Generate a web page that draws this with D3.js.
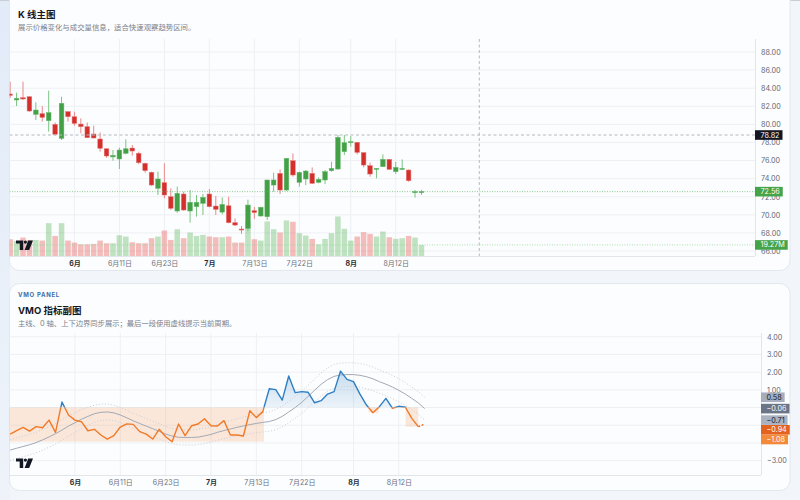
<!DOCTYPE html>
<html>
<head>
<meta charset="utf-8">
<script src="https://cdn.jsdelivr.net/npm/d3@7"></script>
<style>
  html, body { margin: 0; padding: 0; background: #f2f5f9; }
  svg { display: block; font-family: Inter, "Noto Sans CJK SC", sans-serif; }
</style>
</head>
<body>
<svg id="chart" width="800" height="500"></svg>
<script>
// time axis
const tickIndex = [10, 17, 24, 31, 38, 45, 53, 60];
const tickLabels = ['6月', '6月11日', '6月23日', '7月', '7月13日', '7月22日', '8月', '8月12日'];
const monthLabels = ['6月', '7月', '8月'];

// candles (65 bars)
const openP  = [83.35,82.69,82.94,83.05,81.10,81.18,80.40,80.00,78.45,81.40,80.84,80.03,79.74,78.93,78.38,77.30,76.40,76.17,76.80,77.38,76.80,75.69,74.70,72.93,73.55,72.00,70.42,72.30,70.42,70.90,71.27,72.30,70.97,70.30,71.00,69.13,68.43,68.50,70.46,69.87,69.79,73.29,74.58,72.74,75.98,73.59,73.96,74.58,73.59,73.85,74.88,75.06,76.98,77.97,78.01,76.87,75.43,75.02,75.32,76.13,74.77,75.02,74.95,72.45,72.45];
const highP  = [84.70,83.50,84.71,83.10,82.43,82.02,83.72,80.20,83.05,81.45,81.40,80.66,80.20,79.85,79.10,77.35,77.16,77.42,78.34,77.71,76.98,75.76,74.77,74.77,75.69,72.93,73.11,72.56,72.74,72.19,72.30,72.85,72.08,71.93,72.00,69.61,68.76,71.68,70.87,70.90,73.85,74.66,75.02,76.24,76.79,74.77,74.95,75.24,74.14,74.95,75.87,78.82,78.82,78.71,78.05,76.90,75.76,75.13,76.68,76.15,75.87,76.13,75.02,72.74,72.74];
const lowP   = [82.90,82.02,82.68,81.40,80.48,80.30,79.19,78.80,78.27,80.30,79.85,79.00,78.50,78.45,76.98,76.30,75.98,75.06,76.68,76.53,75.60,74.66,73.22,72.19,71.82,70.53,70.24,70.46,69.13,69.80,69.98,70.83,69.98,70.05,69.06,68.76,67.90,68.20,69.55,69.80,69.43,72.56,72.30,72.67,74.21,73.11,73.29,73.40,73.48,73.40,74.77,75.00,76.61,77.53,76.68,75.24,74.21,74.03,75.32,75.00,74.51,74.95,73.66,71.90,72.19];
const closeP = [83.20,82.87,82.80,81.47,81.58,80.77,81.29,78.89,82.32,80.84,80.10,79.74,78.52,78.49,77.35,76.50,76.57,77.16,77.30,77.05,75.76,74.88,73.29,73.96,72.19,70.72,72.37,70.53,71.38,71.38,71.93,70.90,70.60,71.15,69.13,68.87,68.33,71.08,70.25,70.83,73.85,73.85,72.74,76.24,74.40,74.69,74.84,73.48,73.92,74.77,75.13,78.56,77.97,78.08,76.90,75.50,74.51,75.13,76.13,75.02,75.24,75.13,73.77,72.56,72.56];
// volume, millions
const volume = [29.2,26.0,32.1,28.0,28.0,26.9,57.2,35.0,57.2,26.9,23.4,20.4,20.4,21.0,26.9,22.2,22.2,36.2,33.9,23.9,22.2,22.2,31.0,33.9,44.4,28.0,46.7,31.0,40.9,35.0,36.8,33.9,32.7,32.7,33.9,23.4,23.4,60.2,29.2,26.9,60.2,46.7,40.9,61.9,59.6,39.7,35.6,29.8,20.4,29.8,39.7,68.9,47.3,26.9,33.9,41.5,38.5,33.9,42.6,32.7,29.8,31.0,35.0,32.1,19.27];
const priceTicks = [66, 68, 70, 72, 74, 76, 78, 80, 82, 84, 86, 88];
const crosshairIndex = 73;
const crosshairPrice = 78.82;

// VMO panel
const vmoMain = [-1.50,-1.31,-1.12,-1.33,-1.08,-1.14,-0.71,-1.40,0.31,-0.42,-0.71,-0.80,-1.31,-1.23,-1.55,-1.78,-1.59,-1.10,-0.92,-0.95,-1.36,-1.50,-1.78,-1.23,-1.65,-1.93,-0.93,-1.59,-1.03,-0.93,-0.63,-1.03,-1.04,-0.74,-1.55,-1.55,-1.61,-0.18,-0.57,-0.23,1.06,1.01,0.42,1.78,0.84,0.90,0.86,0.27,0.39,0.76,0.90,2.06,1.59,1.46,0.76,0.14,-0.29,0.05,0.52,-0.04,0.07,0.02,-0.61,-1.08];
const vmoCurrent = -0.94;
const vmoSignal = [-2.40,-2.30,-2.20,-2.10,-1.98,-1.83,-1.66,-1.48,-1.27,-1.05,-0.86,-0.66,-0.50,-0.35,-0.27,-0.25,-0.30,-0.42,-0.58,-0.75,-0.90,-1.05,-1.19,-1.34,-1.50,-1.61,-1.68,-1.69,-1.69,-1.67,-1.60,-1.52,-1.40,-1.30,-1.21,-1.12,-1.04,-0.96,-0.90,-0.84,-0.79,-0.68,-0.50,-0.25,0.00,0.29,0.63,0.98,1.31,1.58,1.76,1.84,1.86,1.86,1.82,1.74,1.62,1.46,1.32,1.16,0.97,0.76,0.52,0.26,-0.06];
const vmoUpper = [-1.82,-1.72,-1.62,-1.52,-1.40,-1.25,-1.08,-0.90,-0.69,-0.47,-0.30,-0.12,0.01,0.13,0.19,0.20,0.13,0.01,-0.15,-0.32,-0.47,-0.62,-0.76,-0.91,-1.07,-1.18,-1.25,-1.26,-1.26,-1.24,-1.17,-1.08,-0.95,-0.84,-0.74,-0.64,-0.54,-0.45,-0.38,-0.30,-0.24,-0.11,0.08,0.35,0.61,0.91,1.26,1.62,1.96,2.24,2.43,2.51,2.53,2.53,2.49,2.41,2.29,2.12,1.98,1.81,1.62,1.41,1.16,0.90,0.58];
const vmoLower = [-2.98,-2.88,-2.78,-2.68,-2.56,-2.41,-2.24,-2.06,-1.85,-1.63,-1.42,-1.20,-1.01,-0.83,-0.73,-0.70,-0.73,-0.85,-1.01,-1.18,-1.33,-1.48,-1.62,-1.77,-1.93,-2.04,-2.11,-2.12,-2.12,-2.10,-2.03,-1.96,-1.85,-1.76,-1.68,-1.60,-1.54,-1.47,-1.42,-1.38,-1.34,-1.25,-1.08,-0.85,-0.61,-0.33,0.00,0.34,0.66,0.92,1.09,1.17,1.19,1.19,1.15,1.07,0.95,0.80,0.66,0.51,0.32,0.11,-0.12,-0.38,-0.71];
const vmoTicks = [-3, -2, -1, 0, 1, 2, 3, 4];

const upColor = '#43a047', downColor = '#d3302c';
const upWick = '#7cc383', downWick = '#e8898a';
const axisText = '#5f6673';
const gridColor = '#eef0f4';

const svg = d3.select('#chart');
const defs = svg.append('defs');

// page + cards
const leftBg = defs.append('linearGradient').attr('id', 'leftBg').attr('x1', 0).attr('y1', 0).attr('x2', 0).attr('y2', 1);
leftBg.append('stop').attr('offset', 0).attr('stop-color', '#e2ebf8');
leftBg.append('stop').attr('offset', 1).attr('stop-color', '#eef3fa');
svg.append('rect').attr('width', 800).attr('height', 500).attr('fill', '#f2f5f9');
svg.append('rect').attr('width', 10).attr('height', 500).attr('fill', 'url(#leftBg)');
svg.append('line').attr('x1', 0).attr('x2', 800).attr('y1', 0.5).attr('y2', 0.5).attr('stroke', '#c9cdd4');

svg.append('rect').attr('x', 9.5).attr('y', -20).attr('width', 780.5).attr('height', 290.5)
  .attr('rx', 10).attr('fill', '#fcfdfe').attr('stroke', '#e3e7ee');
svg.append('rect').attr('x', 9.5).attr('y', 283.5).attr('width', 780.5).attr('height', 207)
  .attr('rx', 10).attr('fill', '#fcfdfe').attr('stroke', '#e3e7ee');

svg.append('text').attr('x', 18).attr('y', 17.5).attr('font-size', 9.5).attr('font-weight', 700)
  .attr('fill', '#15181e').text('K 线主图');
svg.append('text').attr('x', 18).attr('y', 30).attr('font-size', 7.4).attr('fill', '#7b818d')
  .text('展示价格变化与成交量信息，适合快速观察趋势区间。');
svg.append('text').attr('x', 18).attr('y', 296.8).attr('font-size', 6).attr('font-weight', 700)
  .attr('letter-spacing', 0.7).attr('fill', '#3b6ea8').text('VMO PANEL');
svg.append('text').attr('x', 18).attr('y', 313.5).attr('font-size', 9.5).attr('font-weight', 700)
  .attr('fill', '#15181e').text('VMO 指标副图');
svg.append('text').attr('x', 18).attr('y', 326.3).attr('font-size', 7.3).attr('fill', '#7b818d')
  .text('主线、0 轴、上下边界同步展示；最后一段使用虚线提示当前周期。');

// ---------- price pane ----------
const p1 = { left: 9.5, right: 755, top: 39, bottom: 256 };
const x1 = d3.scaleLinear().domain([-0.1, 115.9]).range([p1.left, p1.right]);
const y1 = d3.scaleLinear().domain([65.45, 89.43]).range([p1.bottom, p1.top]);
const yVol = d3.scaleLinear().domain([0, 76]).range([p1.bottom, p1.bottom - 43.6]);
const spacing1 = x1(1) - x1(0);

defs.append('clipPath').attr('id', 'clip1').append('rect')
  .attr('x', p1.left).attr('y', p1.top).attr('width', p1.right - p1.left).attr('height', p1.bottom - p1.top);

const g1 = svg.append('g');
const grid1 = g1.append('g');
grid1.selectAll('.h').data(priceTicks).enter().append('line')
  .attr('x1', p1.left).attr('x2', p1.right).attr('y1', d => y1(d)).attr('y2', d => y1(d))
  .attr('stroke', gridColor);
grid1.selectAll('.v').data(tickIndex).enter().append('line')
  .attr('x1', d => x1(d)).attr('x2', d => x1(d)).attr('y1', p1.top).attr('y2', p1.bottom)
  .attr('stroke', gridColor);

const bars = d3.range(openP.length).map(i => ({
  i, o: openP[i], h: highP[i], l: lowP[i], c: closeP[i], v: volume[i], up: closeP[i] >= openP[i]
}));

const plot1 = g1.append('g').attr('clip-path', 'url(#clip1)');
const volW = spacing1 * 0.86;
plot1.selectAll('.vol').data(bars).enter().append('rect')
  .attr('x', d => x1(d.i) - volW / 2)
  .attr('y', d => yVol(d.v))
  .attr('width', volW)
  .attr('height', d => yVol(0) - yVol(d.v))
  .attr('fill', d => d.up ? 'rgba(76,175,80,0.35)' : 'rgba(229,57,53,0.33)');

const bodyW = spacing1 * 0.72;
plot1.selectAll('.wick').data(bars).enter().append('line')
  .attr('x1', d => x1(d.i)).attr('x2', d => x1(d.i))
  .attr('y1', d => y1(d.h)).attr('y2', d => y1(d.l))
  .attr('stroke', d => d.up ? upWick : downWick).attr('stroke-width', 1);
plot1.selectAll('.body').data(bars).enter().append('rect')
  .attr('x', d => x1(d.i) - bodyW / 2)
  .attr('y', d => y1(Math.max(d.o, d.c)))
  .attr('width', bodyW)
  .attr('height', d => Math.max(1, Math.abs(y1(d.o) - y1(d.c))))
  .attr('fill', d => d.up ? upColor : downColor)
  .attr('stroke', d => d.up ? '#63b667' : '#e57373').attr('stroke-width', 0.5);

const lastBar = bars[bars.length - 1];
plot1.append('line').attr('x1', p1.left).attr('x2', p1.right)
  .attr('y1', y1(lastBar.c)).attr('y2', y1(lastBar.c))
  .attr('stroke', '#5cb860').attr('stroke-opacity', 0.7).attr('stroke-dasharray', '1,1.5');
plot1.append('line').attr('x1', p1.left).attr('x2', p1.right)
  .attr('y1', yVol(lastBar.v)).attr('y2', yVol(lastBar.v))
  .attr('stroke', '#8fd093').attr('stroke-opacity', 0.7).attr('stroke-dasharray', '1,1.5');

// crosshair
plot1.append('line').attr('x1', x1(crosshairIndex)).attr('x2', x1(crosshairIndex))
  .attr('y1', p1.top).attr('y2', p1.bottom)
  .attr('stroke', '#b4b8bf').attr('stroke-dasharray', '3,2.5');
plot1.append('line').attr('x1', p1.left).attr('x2', p1.right)
  .attr('y1', y1(crosshairPrice)).attr('y2', y1(crosshairPrice))
  .attr('stroke', '#b4b8bf').attr('stroke-dasharray', '3,2.5');

// axes
g1.append('line').attr('x1', p1.right + 0.5).attr('x2', p1.right + 0.5).attr('y1', p1.top).attr('y2', p1.bottom)
  .attr('stroke', '#e2e5ea');
g1.append('line').attr('x1', p1.left).attr('x2', p1.right).attr('y1', p1.bottom + 0.5).attr('y2', p1.bottom + 0.5)
  .attr('stroke', '#e2e5ea');

const fmtNum = d => d.toFixed(2).replace('-', '−');

// ticks hidden under a last-value label are dropped
function rightAxis(g, y, ticks, xPos, labelYs) {
  const shown = ticks.filter(t => labelYs.every(ly => Math.abs(y(t) - ly) >= 5));
  const ax = g.append('g').attr('transform', 'translate(' + xPos + ',0)')
    .call(d3.axisRight(y).tickValues(shown).tickFormat(fmtNum).tickSize(0).tickPadding(6));
  ax.select('.domain').remove();
  ax.selectAll('text').attr('font-size', 7.2).attr('fill', axisText)
    .attr('font-family', 'Inter, "Noto Sans CJK SC", sans-serif');
}

function timeAxis(g, x, yPos) {
  const ax = g.append('g').attr('transform', 'translate(0,' + yPos + ')')
    .call(d3.axisBottom(x).tickValues(tickIndex).tickFormat((d, i) => tickLabels[i]).tickSize(0).tickPadding(5));
  ax.select('.domain').remove();
  ax.selectAll('text').attr('font-size', 7).attr('font-family', 'Inter, "Noto Sans CJK SC", sans-serif')
    .attr('fill', (d, i) => monthLabels.includes(tickLabels[i]) ? '#2a2e36' : '#6b717c')
    .attr('font-weight', (d, i) => monthLabels.includes(tickLabels[i]) ? 700 : 400);
}

function valueLabel(g, xPos, yPos, text, bg, fg) {
  const lg = g.append('g');
  const rect = lg.append('rect');
  const t = lg.append('text').attr('x', xPos + 5.5).attr('y', yPos).attr('dy', '0.35em')
    .attr('font-size', 7.2).attr('fill', fg).text(text);
  const w = t.node().getComputedTextLength();
  rect.attr('x', xPos).attr('y', yPos - 4.8).attr('width', w + 8.5).attr('height', 9.6).attr('fill', bg);
}

function tvLogo(g, xPos, yPos) {
  const lg = g.append('g').attr('transform', 'translate(' + xPos + ',' + yPos + ')').attr('fill', '#131722');
  lg.append('path').attr('d', 'M0,0H7.2V9.6H3.7V3.1H0Z');
  lg.append('circle').attr('cx', 9.4).attr('cy', 1.6).attr('r', 1.6);
  lg.append('path').attr('d', 'M12.2,0H17L13.2,9.6H8.6Z');
}

const topLabels = [
  { y: y1(crosshairPrice), text: crosshairPrice.toFixed(2), bg: '#131722' },
  { y: y1(lastBar.c), text: lastBar.c.toFixed(2), bg: '#45a349' },
  { y: yVol(lastBar.v), text: lastBar.v.toFixed(2) + 'M', bg: '#45a349' }
];
rightAxis(g1, y1, priceTicks, p1.right, topLabels.map(d => d.y));
timeAxis(g1, x1, p1.bottom);
tvLogo(g1, 16, 240.5);
topLabels.forEach(d => valueLabel(g1, p1.right, d.y, d.text, d.bg, '#ffffff'));

// ---------- VMO pane ----------
const p2 = { left: 9.5, right: 761, top: 333, bottom: 475 };
const x2 = d3.scaleLinear().domain([-0.1, 115.9]).range([p2.left, p2.right]);
const y2 = d3.scaleLinear().domain([-3.81, 4.21]).range([p2.bottom, p2.top]);

defs.append('clipPath').attr('id', 'clip2').append('rect')
  .attr('x', p2.left).attr('y', p2.top).attr('width', p2.right - p2.left).attr('height', p2.bottom - p2.top);
defs.append('clipPath').attr('id', 'clipPos').append('rect')
  .attr('x', p2.left).attr('y', p2.top).attr('width', p2.right - p2.left).attr('height', y2(0) - p2.top);
defs.append('clipPath').attr('id', 'clipNeg').append('rect')
  .attr('x', p2.left).attr('y', y2(0)).attr('width', p2.right - p2.left).attr('height', p2.bottom - y2(0));

const blueGrad = defs.append('linearGradient').attr('id', 'blueGrad')
  .attr('gradientUnits', 'userSpaceOnUse').attr('x1', 0).attr('x2', 0).attr('y1', y2(2.1)).attr('y2', y2(0));
blueGrad.append('stop').attr('offset', 0).attr('stop-color', '#2e7fc4').attr('stop-opacity', 0.26);
blueGrad.append('stop').attr('offset', 1).attr('stop-color', '#2e7fc4').attr('stop-opacity', 0.08);

const g2 = svg.append('g');
g2.selectAll('.h').data(vmoTicks).enter().append('line')
  .attr('x1', p2.left).attr('x2', p2.right).attr('y1', d => y2(d)).attr('y2', d => y2(d))
  .attr('stroke', gridColor);
g2.selectAll('.v').data(tickIndex).enter().append('line')
  .attr('x1', d => x2(d)).attr('x2', d => x2(d)).attr('y1', p2.top).attr('y2', p2.bottom)
  .attr('stroke', gridColor);

const plot2 = g2.append('g').attr('clip-path', 'url(#clip2)');

// negative zones: shaded from 0 to the lowest point of each run
function negRuns(vals) {
  const runs = [];
  let cur = null;
  vals.forEach((v, i) => {
    if (v < 0) {
      if (!cur) cur = { s: i === 0 ? -1 : i - 1 + vals[i - 1] / (vals[i - 1] - v), min: v };
      cur.min = Math.min(cur.min, v);
    } else if (cur) {
      cur.e = i - 1 + vals[i - 1] / (vals[i - 1] - v);
      runs.push(cur);
      cur = null;
    }
  });
  if (cur) { cur.e = vals.length - 1; runs.push(cur); }
  const merged = [];
  runs.forEach(r => {
    const last = merged[merged.length - 1];
    if (last && r.s - last.e < 1) { last.e = r.e; last.min = Math.min(last.min, r.min); }
    else merged.push(Object.assign({}, r));
  });
  return merged;
}

plot2.selectAll('.neg').data(negRuns(vmoMain)).enter().append('rect')
  .attr('x', d => x2(d.s)).attr('y', y2(0))
  .attr('width', d => x2(d.e) - x2(d.s))
  .attr('height', d => y2(d.min) - y2(0))
  .attr('fill', 'rgba(242,125,40,0.17)');

const mainPts = vmoMain.map((v, i) => [i, v]);
plot2.append('path').datum(mainPts).attr('clip-path', 'url(#clipPos)')
  .attr('d', d3.area().x(d => x2(d[0])).y0(y2(0)).y1(d => y2(d[1])))
  .attr('fill', 'url(#blueGrad)');

const lineOf = (arr) => d3.line().x((d, i) => x2(i)).y(d => y2(d))(arr);

plot2.append('path').attr('d', lineOf(vmoUpper)).attr('fill', 'none')
  .attr('stroke', '#c9cdd5').attr('stroke-dasharray', '1,2');
plot2.append('path').attr('d', lineOf(vmoLower)).attr('fill', 'none')
  .attr('stroke', '#c9cdd5').attr('stroke-dasharray', '1,2');
plot2.append('path').attr('d', lineOf(vmoSignal)).attr('fill', 'none')
  .attr('stroke', '#a2a8b4').attr('stroke-width', 1);

const mainLine = d3.line().x(d => x2(d[0])).y(d => y2(d[1]));
plot2.append('path').datum(mainPts).attr('clip-path', 'url(#clipPos)').attr('d', mainLine)
  .attr('fill', 'none').attr('stroke', '#2e7fc4').attr('stroke-width', 1.4).attr('stroke-linejoin', 'round');
plot2.append('path').datum(mainPts).attr('clip-path', 'url(#clipNeg)').attr('d', mainLine)
  .attr('fill', 'none').attr('stroke', '#f07a28').attr('stroke-width', 1.4).attr('stroke-linejoin', 'round');
// current period, dashed
const lastIdx = vmoMain.length - 1;
plot2.append('path').datum([[lastIdx, vmoMain[lastIdx]], [lastIdx + 1, vmoCurrent]]).attr('d', mainLine)
  .attr('fill', 'none').attr('stroke', '#e8661f').attr('stroke-width', 1.4).attr('stroke-dasharray', '2,1.5');

g2.append('line').attr('x1', p2.right + 0.5).attr('x2', p2.right + 0.5).attr('y1', p2.top).attr('y2', p2.bottom)
  .attr('stroke', '#e2e5ea');
g2.append('line').attr('x1', p2.left).attr('x2', p2.right).attr('y1', p2.bottom + 0.5).attr('y2', p2.bottom + 0.5)
  .attr('stroke', '#e2e5ea');

// last-value labels, pushed apart when they collide
const vmoLabels = [
  { v: vmoUpper[vmoUpper.length - 1], bg: '#a6adbd', fg: '#15181e' },
  { v: vmoSignal[vmoSignal.length - 1], bg: '#6c7487', fg: '#ffffff' },
  { v: vmoLower[vmoLower.length - 1], bg: '#aab1c1', fg: '#15181e' },
  { v: vmoCurrent, bg: '#e4621f', fg: '#ffffff' },
  { v: vmoMain[lastIdx], bg: '#f28a3a', fg: '#ffffff' }
].map(d => Object.assign(d, { y: y2(d.v) })).sort((a, b) => a.y - b.y);
vmoLabels.forEach((d, i) => {
  if (i > 0) d.y = Math.max(d.y, vmoLabels[i - 1].y + 9.7);
});

rightAxis(g2, y2, vmoTicks, p2.right, vmoLabels.map(d => d.y));
timeAxis(g2, x2, p2.bottom);
tvLogo(g2, 16, 458.5);
vmoLabels.forEach(d => valueLabel(g2, p2.right, d.y, fmtNum(d.v), d.bg, d.fg));
</script>
</body>
</html>
